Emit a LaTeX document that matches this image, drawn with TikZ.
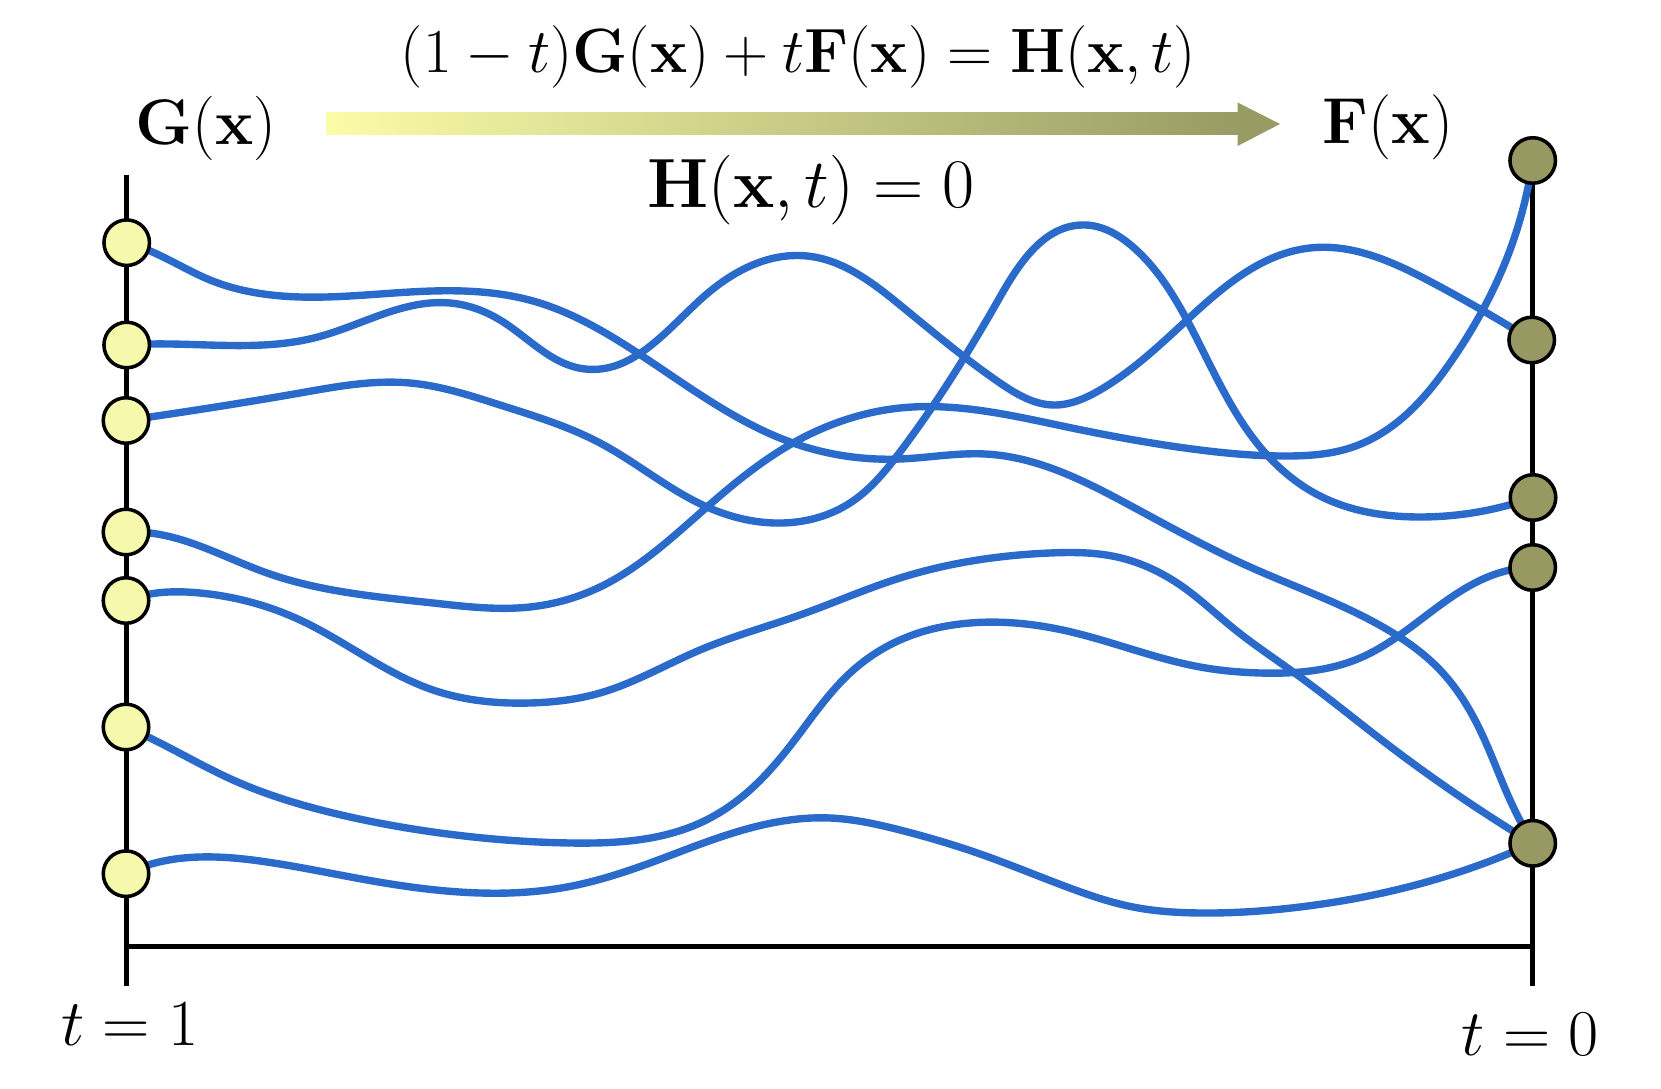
\RequirePackage{fix-cm}
\documentclass[tikz,border=0pt]{standalone}
\usepackage{amsmath}
\usetikzlibrary{hobby}
\pgfdeclarelayer{back}
\pgfsetlayers{back,main}
\definecolor{curveblue}{HTML}{2A6ACB}
\definecolor{startyellow}{HTML}{F6F8AB}
\definecolor{endolive}{HTML}{989862}
\definecolor{arrowyellow}{HTML}{FAFCA8}
\definecolor{arrowolive}{HTML}{999B64}
\begin{document}
\begin{tikzpicture}[x=0.01cm,y=-0.01cm,
  pathline/.style={draw=curveblue, line width=2.1pt, line cap=round, line join=round, use Hobby shortcut},
  axisline/.style={draw=black, line width=1.3pt},
  gnode/.style={circle, draw=black, line width=1pt, fill=startyellow, minimum size=0.455cm, inner sep=0pt},
  fnode/.style={gnode, fill=endolive},
  lbl/.style={inner sep=0pt, text=black}]
\useasboundingbox (0,0) rectangle (1661,1089);

% left nodes G(x)
\node[gnode] (L1) at (126.7,242.7) {};
\node[gnode] (L2) at (126.7,345) {};
\node[gnode] (L3) at (126,420.5) {};
\node[gnode] (L4) at (126,532) {};
\node[gnode] (L5) at (126,600.5) {};
\node[gnode] (L6) at (126,727) {};
\node[gnode] (L7) at (126,873.7) {};
% right nodes F(x)
\node[fnode] (R1) at (1532.7,160.5) {};
\node[fnode] (R2) at (1531.7,340) {};
\node[fnode] (R3) at (1533,497.5) {};
\node[fnode] (R4) at (1532.7,567.5) {};
\node[fnode] (R5) at (1532.7,843.3) {};

% axis end points
\coordinate (ltop) at (126.7,175);
\coordinate (lbot) at (126.7,986);
\coordinate (lcorner) at (126.7,946.7);
\coordinate (rcorner) at (1532.7,946.7);
\coordinate (rbot) at (1532.7,986);

% labels
\node[lbl, font=\fontsize{17.8}{21}\selectfont] (eq) at (798.5,56.5)
  {$(1-t)\mathbf{G}(\mathbf{x})+t\mathbf{F}(\mathbf{x})=\mathbf{H}(\mathbf{x},t)$};
\node[lbl, font=\fontsize{18.3}{22}\selectfont] (gx) at (206,128) {$\mathbf{G}(\mathbf{x})$};
\node[lbl, font=\fontsize{18.5}{22}\selectfont] (fx) at (1388,127) {$\mathbf{F}(\mathbf{x})$};
\node[lbl, font=\fontsize{19.8}{24}\selectfont] (hx) at (811,190) {$\mathbf{H}(\mathbf{x},t)=0$};
\node[lbl, font=\fontsize{18.7}{22}\selectfont, anchor=base] (t1) at (130,1045) {$t=1$};
\node[lbl, font=\fontsize{18.6}{22}\selectfont, anchor=base] (t0) at (1530,1055) {$t=0$};

% gradient arrow
\shade[left color=arrowyellow, right color=arrowolive] (326,113) rectangle (1239,134.5);
\fill[arrowolive] (1237.6,102.5) -- (1280,124) -- (1237.6,146) -- cycle;

\begin{pgfonlayer}{back}
\draw[axisline] (ltop) -- (lbot);
\draw[axisline] (R1.center) -- (rbot);
\draw[axisline] (lcorner) -- (rcorner);

% A: L1 -> R5
\draw[pathline] (L1.center) .. (151.7,251.7) .. (210,280) .. (300,297) .. (433,291) .. (533,301) .. (633,350) .. (793,443) .. (900,459) .. (985,454) .. (1133,507) .. (1250,567) .. (1393,633) .. (1440,670) .. (1480,730) .. (1510,800) .. (R5.center);
% B: L2 -> R2
\draw[pathline] (L2.center) .. (151.7,344) .. (316.7,337.3) .. (450,303) .. (500,320) .. (585,369) .. (700,300) .. (807,256) .. (900,305) .. (1000,383) .. (1053,405) .. (1100,390) .. (1187,320) .. (1310,248) .. (1433,283) .. (R2.center);
% C: L3 -> R3
\draw[pathline] (L3.center) .. (150,417) .. (300,393) .. (410,383) .. (500,405) .. (600,443) .. (707,507) .. (783,523) .. (850,503) .. (900,452) .. (1000,297) .. (1085,225) .. (1133,247) .. (1187,320) .. (1267,455) .. (1320,496) .. (1420,517) .. (R3.center);
% D: L4 -> R1
\draw[pathline] (L4.center) .. (150,533) .. (267,573) .. (433,603) .. (530,607) .. (600,587) .. (707,507) .. (793,443) .. (900,408) .. (1067,427) .. (1200,450) .. (1290,456) .. (1350,448) .. (1400,420) .. (1450,363) .. (1510,250) .. (R1.center);
% E: L5 -> R5
\draw[pathline] (L5.center) .. (150,594) .. (200,593) .. (300,620) .. (433,690) .. (530,703) .. (600,693) .. (700,650) .. (800,615) .. (900,578) .. (1050,553) .. (1117,557) .. (1183,587) .. (1233,628) .. (1296,674) .. (1383,741) .. (R5.center);
% F: L6 -> R4
\draw[pathline] (L6.center) .. (148,737) .. (233,780) .. (333,813) .. (433,832) .. (570,843) .. (700,823) .. (750,790) .. (800,733) .. (850,673) .. (900,640) .. (970,623) .. (1067,631) .. (1200,667) .. (1260,673) .. (1360,658) .. (1510,570) .. (R4.center);
% G: L7 -> R5
\draw[pathline] (L7.center) .. (148,865) .. (200,857) .. (267,862) .. (367,880) .. (480,893) .. (567,887) .. (650,863) .. (733,833) .. (830,818) .. (900,830) .. (983,855) .. (1067,887) .. (1133,907) .. (1200,913) .. (1300,907) .. (1450,875) .. (R5.center);
\end{pgfonlayer}
\end{tikzpicture}
\end{document}
